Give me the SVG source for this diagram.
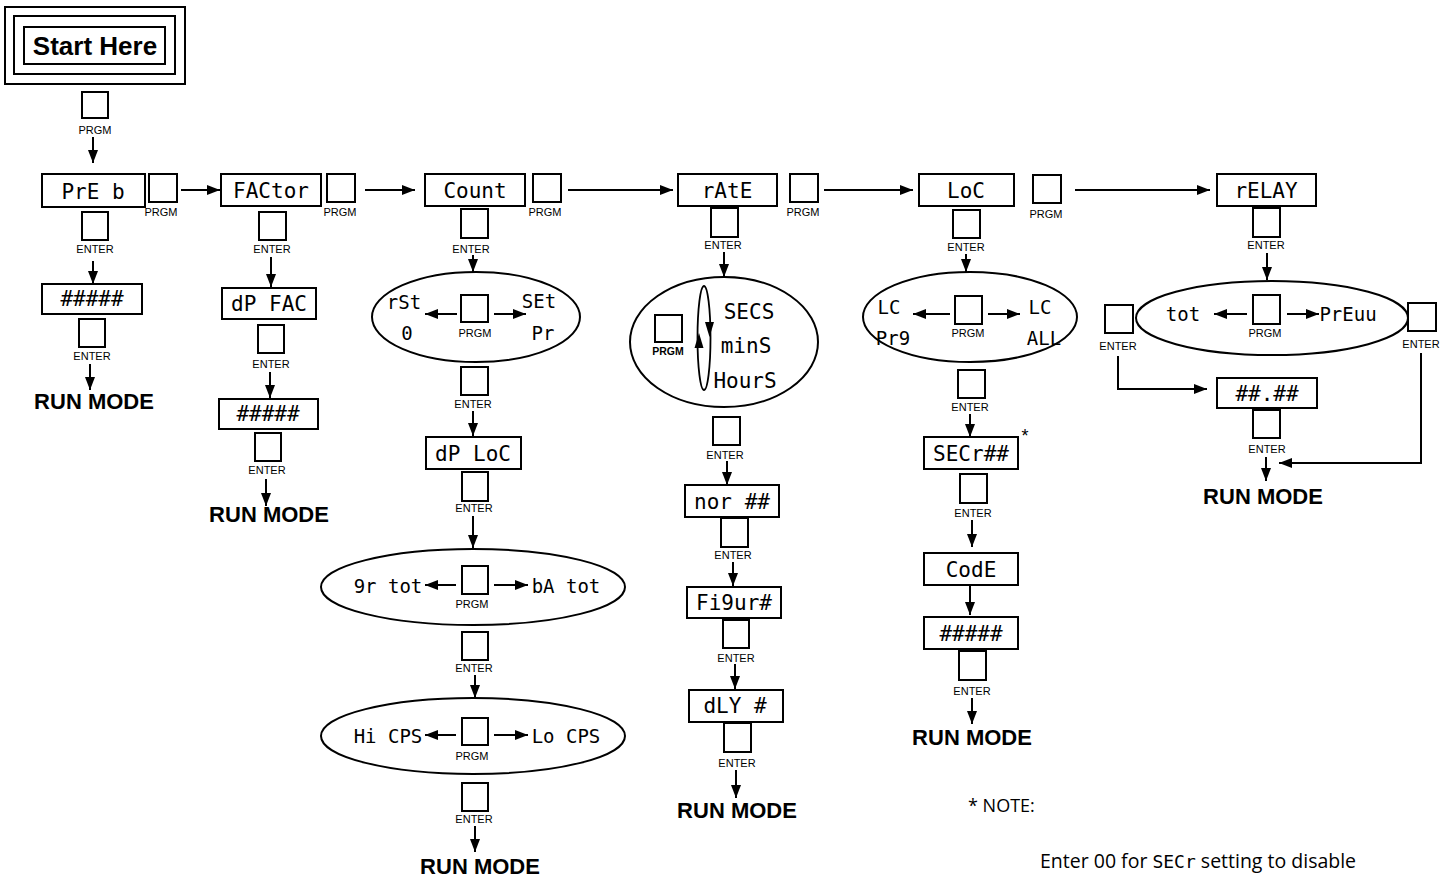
<svg xmlns="http://www.w3.org/2000/svg" width="1450" height="878" viewBox="0 0 1450 878">
<defs>
<marker id="ah" markerUnits="userSpaceOnUse" markerWidth="14" markerHeight="10" refX="13" refY="5" orient="auto">
<path d="M0,0 L13,5 L0,10 z" fill="#000"/>
</marker>
<style>
.box{fill:#fff;stroke:#000;stroke-width:2}
.btn{fill:#fff;stroke:#000;stroke-width:2}
.ell{fill:#fff;stroke:#000;stroke-width:2}
.w{fill:none;stroke:#000;stroke-width:2;marker-end:url(#ah)}
.lbl{font-family:"Liberation Sans",Arial,sans-serif;font-size:11px;text-anchor:middle;fill:#000}
.seg{font-family:"DejaVu Sans Mono","Liberation Mono",monospace;font-size:21px;text-anchor:middle;fill:#000}
.segs{font-family:"DejaVu Sans Mono","Liberation Mono",monospace;font-size:19px;text-anchor:middle;fill:#000}
.run{font-family:"Liberation Sans",Arial,sans-serif;font-size:22px;font-weight:bold;text-anchor:middle;fill:#000}
.note{font-family:"Open Sans","Liberation Sans",sans-serif;font-size:18px;fill:#000}
</style>
</defs>
<rect width="1450" height="878" fill="#fff"/>

<g id="start">
<rect x="5" y="7" width="180" height="77" class="box"/>
<rect x="14" y="16" width="161" height="58" class="box"/>
<rect x="24" y="27" width="141" height="37" class="box"/>
<text x="95" y="55" class="run" style="font-size:26px">Start Here</text>
<rect x="82" y="92" width="26" height="26" class="btn"/>
<text x="95" y="134" class="lbl">PRGM</text>
</g>

<g id="col1">
<rect x="42" y="174" width="103" height="33" class="box"/>
<text x="93" y="199" class="seg">PrE b</text>
<rect x="149" y="174" width="28" height="28" class="btn"/>
<text x="161" y="216" class="lbl">PRGM</text>
<rect x="82" y="212" width="26" height="28" class="btn"/>
<text x="95" y="253" class="lbl">ENTER</text>
<rect x="42" y="284" width="100" height="30" class="box"/>
<text x="92" y="306" class="seg">#####</text>
<rect x="79" y="319" width="26" height="28" class="btn"/>
<text x="92" y="360" class="lbl">ENTER</text>
<text x="94" y="409" class="run">RUN MODE</text>
</g>

<g id="col2">
<rect x="221" y="174" width="100" height="32" class="box"/>
<text x="271" y="198" class="seg">FACtor</text>
<rect x="327" y="174" width="28" height="28" class="btn"/>
<text x="340" y="216" class="lbl">PRGM</text>
<rect x="259" y="212" width="27" height="28" class="btn"/>
<text x="272" y="253" class="lbl">ENTER</text>
<rect x="222" y="288" width="94" height="31" class="box"/>
<text x="269" y="311" class="seg">dP FAC</text>
<rect x="258" y="325" width="26" height="28" class="btn"/>
<text x="271" y="368" class="lbl">ENTER</text>
<rect x="219" y="399" width="99" height="30" class="box"/>
<text x="268" y="421" class="seg">#####</text>
<rect x="255" y="433" width="26" height="28" class="btn"/>
<text x="267" y="474" class="lbl">ENTER</text>
<text x="269" y="522" class="run">RUN MODE</text>
</g>

<g id="col3">
<rect x="425" y="174" width="100" height="32" class="box"/>
<text x="475" y="198" class="seg">Count</text>
<rect x="533" y="174" width="28" height="28" class="btn"/>
<text x="545" y="216" class="lbl">PRGM</text>
<rect x="461" y="209" width="27" height="29" class="btn"/>
<text x="471" y="253" class="lbl">ENTER</text>
<ellipse cx="476" cy="317" rx="104" ry="45" class="ell"/>
<text x="404" y="309" class="segs">rSt</text>
<text x="407" y="340" class="segs">0</text>
<text x="539" y="308" class="segs">SEt</text>
<text x="543" y="340" class="segs">Pr</text>
<rect x="461" y="295" width="27" height="27" class="btn"/>
<text x="475" y="337" class="lbl">PRGM</text>
<rect x="461" y="367" width="27" height="28" class="btn"/>
<text x="473" y="408" class="lbl">ENTER</text>
<rect x="426" y="437" width="95" height="32" class="box"/>
<text x="473" y="461" class="seg">dP LoC</text>
<rect x="462" y="472" width="26" height="29" class="btn"/>
<text x="474" y="512" class="lbl">ENTER</text>
<ellipse cx="473" cy="587" rx="152" ry="38" class="ell"/>
<text x="388" y="593" class="segs">9r tot</text>
<text x="566" y="593" class="segs">bA tot</text>
<rect x="462" y="566" width="26" height="28" class="btn"/>
<text x="472" y="608" class="lbl">PRGM</text>
<rect x="462" y="632" width="26" height="28" class="btn"/>
<text x="474" y="672" class="lbl">ENTER</text>
<ellipse cx="473" cy="736" rx="152" ry="38" class="ell"/>
<text x="388" y="743" class="segs">Hi CPS</text>
<text x="566" y="743" class="segs">Lo CPS</text>
<rect x="462" y="718" width="26" height="27" class="btn"/>
<text x="472" y="760" class="lbl">PRGM</text>
<rect x="462" y="783" width="26" height="28" class="btn"/>
<text x="474" y="823" class="lbl">ENTER</text>
<text x="480" y="874" class="run">RUN MODE</text>
</g>

<g id="col4">
<rect x="678" y="174" width="99" height="32" class="box"/>
<text x="727" y="198" class="seg">rAtE</text>
<rect x="790" y="174" width="28" height="28" class="btn"/>
<text x="803" y="216" class="lbl">PRGM</text>
<rect x="711" y="208" width="27" height="29" class="btn"/>
<text x="723" y="249" class="lbl">ENTER</text>
<ellipse cx="724" cy="342" rx="94" ry="65" class="ell"/>
<rect x="655" y="315" width="27" height="27" class="btn"/>
<text x="668" y="355" class="lbl" style="font-weight:bold;font-size:10.5px">PRGM</text>
<ellipse cx="704" cy="338" rx="6.5" ry="52" fill="none" stroke="#000" stroke-width="1.8"/>
<path d="M705,322 L714,322 L709.5,337 z" fill="#000"/>
<path d="M694.5,348 L703.5,348 L699,333 z" fill="#000"/>
<text x="749" y="319" class="seg">SECS</text>
<text x="746" y="353" class="seg">minS</text>
<text x="745" y="388" class="seg">HourS</text>
<rect x="713" y="417" width="27" height="28" class="btn"/>
<text x="725" y="459" class="lbl">ENTER</text>
<rect x="685" y="485" width="94" height="32" class="box"/>
<text x="732" y="509" class="seg">nor ##</text>
<rect x="721" y="518" width="27" height="29" class="btn"/>
<text x="733" y="559" class="lbl">ENTER</text>
<rect x="687" y="587" width="94" height="31" class="box"/>
<text x="734" y="610" class="seg">Fi9ur#</text>
<rect x="723" y="620" width="26" height="28" class="btn"/>
<text x="736" y="662" class="lbl">ENTER</text>
<rect x="689" y="690" width="94" height="32" class="box"/>
<text x="735" y="713" class="seg">dLY #</text>
<rect x="724" y="723" width="27" height="29" class="btn"/>
<text x="737" y="767" class="lbl">ENTER</text>
<text x="737" y="818" class="run">RUN MODE</text>
</g>

<g id="col5">
<rect x="919" y="174" width="95" height="32" class="box"/>
<text x="966" y="198" class="seg">LoC</text>
<rect x="1033" y="175" width="28" height="28" class="btn"/>
<text x="1046" y="218" class="lbl">PRGM</text>
<rect x="953" y="210" width="27" height="28" class="btn"/>
<text x="966" y="251" class="lbl">ENTER</text>
<ellipse cx="970" cy="317" rx="107" ry="45" class="ell"/>
<text x="889" y="314" class="segs">LC</text>
<text x="893" y="345" class="segs">Pr9</text>
<text x="1040" y="314" class="segs">LC</text>
<text x="1044" y="345" class="segs">ALL</text>
<rect x="955" y="296" width="27" height="28" class="btn"/>
<text x="968" y="337" class="lbl">PRGM</text>
<rect x="958" y="370" width="27" height="28" class="btn"/>
<text x="970" y="411" class="lbl">ENTER</text>
<rect x="924" y="437" width="94" height="32" class="box"/>
<text x="971" y="461" class="seg">SECr##</text>
<text x="1025" y="442" class="lbl" style="font-size:18px">*</text>
<rect x="960" y="474" width="27" height="29" class="btn"/>
<text x="973" y="517" class="lbl">ENTER</text>
<rect x="924" y="553" width="94" height="32" class="box"/>
<text x="971" y="577" class="seg">CodE</text>
<rect x="924" y="617" width="94" height="32" class="box"/>
<text x="971" y="641" class="seg">#####</text>
<rect x="959" y="651" width="27" height="29" class="btn"/>
<text x="972" y="695" class="lbl">ENTER</text>
<text x="972" y="745" class="run">RUN MODE</text>
</g>

<g id="col6">
<rect x="1217" y="174" width="99" height="32" class="box"/>
<text x="1266" y="198" class="seg">rELAY</text>
<rect x="1253" y="208" width="27" height="29" class="btn"/>
<text x="1266" y="249" class="lbl">ENTER</text>
<ellipse cx="1272" cy="318" rx="136" ry="37" class="ell"/>
<text x="1183" y="321" class="segs">tot</text>
<text x="1348" y="321" class="segs">PrEuu</text>
<rect x="1253" y="295" width="27" height="29" class="btn"/>
<text x="1265" y="337" class="lbl">PRGM</text>
<rect x="1105" y="305" width="28" height="28" class="btn"/>
<text x="1118" y="350" class="lbl">ENTER</text>
<rect x="1408" y="303" width="28" height="28" class="btn"/>
<text x="1421" y="348" class="lbl">ENTER</text>
<rect x="1217" y="378" width="100" height="30" class="box"/>
<text x="1267" y="401" class="seg">##.##</text>
<rect x="1253" y="410" width="27" height="28" class="btn"/>
<text x="1267" y="453" class="lbl">ENTER</text>
<text x="1263" y="504" class="run">RUN MODE</text>
</g>

<g id="note">
<text x="968" y="812" class="note">* NOTE:</text>
<text x="1040" y="868" class="note" style="font-size:19.5px">Enter 00 for <tspan style="font-family:'DejaVu Sans Mono',monospace;font-size:18px">SECr</tspan> setting to disable</text>
</g>

<g id="connectors">
<line x1="93" y1="137" x2="93" y2="163" class="w"/>
<line x1="181" y1="190" x2="220" y2="190" class="w"/>
<line x1="365" y1="190" x2="415" y2="190" class="w"/>
<line x1="568" y1="190" x2="673" y2="190" class="w"/>
<line x1="824" y1="190" x2="913" y2="190" class="w"/>
<line x1="1075" y1="190" x2="1210" y2="190" class="w"/>
<line x1="93" y1="261" x2="93" y2="284" class="w"/>
<line x1="90" y1="364" x2="90" y2="390" class="w"/>
<line x1="271" y1="257" x2="271" y2="287" class="w"/>
<line x1="270" y1="372" x2="270" y2="398" class="w"/>
<line x1="266" y1="479" x2="266" y2="506" class="w"/>
<line x1="473" y1="255" x2="473" y2="272" class="w"/>
<line x1="457" y1="314" x2="425" y2="314" class="w"/>
<line x1="494" y1="314" x2="526" y2="314" class="w"/>
<line x1="473" y1="411" x2="473" y2="436" class="w"/>
<line x1="473" y1="516" x2="473" y2="548" class="w"/>
<line x1="456" y1="585" x2="425" y2="585" class="w"/>
<line x1="494" y1="585" x2="528" y2="585" class="w"/>
<line x1="475" y1="675" x2="475" y2="698" class="w"/>
<line x1="456" y1="735" x2="425" y2="735" class="w"/>
<line x1="494" y1="735" x2="528" y2="735" class="w"/>
<line x1="475" y1="826" x2="475" y2="852" class="w"/>
<line x1="724" y1="252" x2="724" y2="277" class="w"/>
<line x1="727" y1="461" x2="727" y2="485" class="w"/>
<line x1="733" y1="562" x2="733" y2="586" class="w"/>
<line x1="735" y1="664" x2="735" y2="689" class="w"/>
<line x1="736" y1="770" x2="736" y2="798" class="w"/>
<line x1="966" y1="254" x2="966" y2="272" class="w"/>
<line x1="950" y1="314" x2="913" y2="314" class="w"/>
<line x1="988" y1="314" x2="1020" y2="314" class="w"/>
<line x1="970" y1="414" x2="970" y2="437" class="w"/>
<line x1="972" y1="520" x2="972" y2="547" class="w"/>
<line x1="970" y1="586" x2="970" y2="615" class="w"/>
<line x1="972" y1="698" x2="972" y2="724" class="w"/>
<line x1="1267" y1="253" x2="1267" y2="280" class="w"/>
<line x1="1247" y1="314" x2="1214" y2="314" class="w"/>
<line x1="1287" y1="314" x2="1319" y2="314" class="w"/>
<polyline points="1118,356 1118,389 1207,389" class="w"/>
<line x1="1266" y1="457" x2="1266" y2="481" class="w"/>
<polyline points="1421,353 1421,463 1279,463" class="w"/>
</g>
</svg>
